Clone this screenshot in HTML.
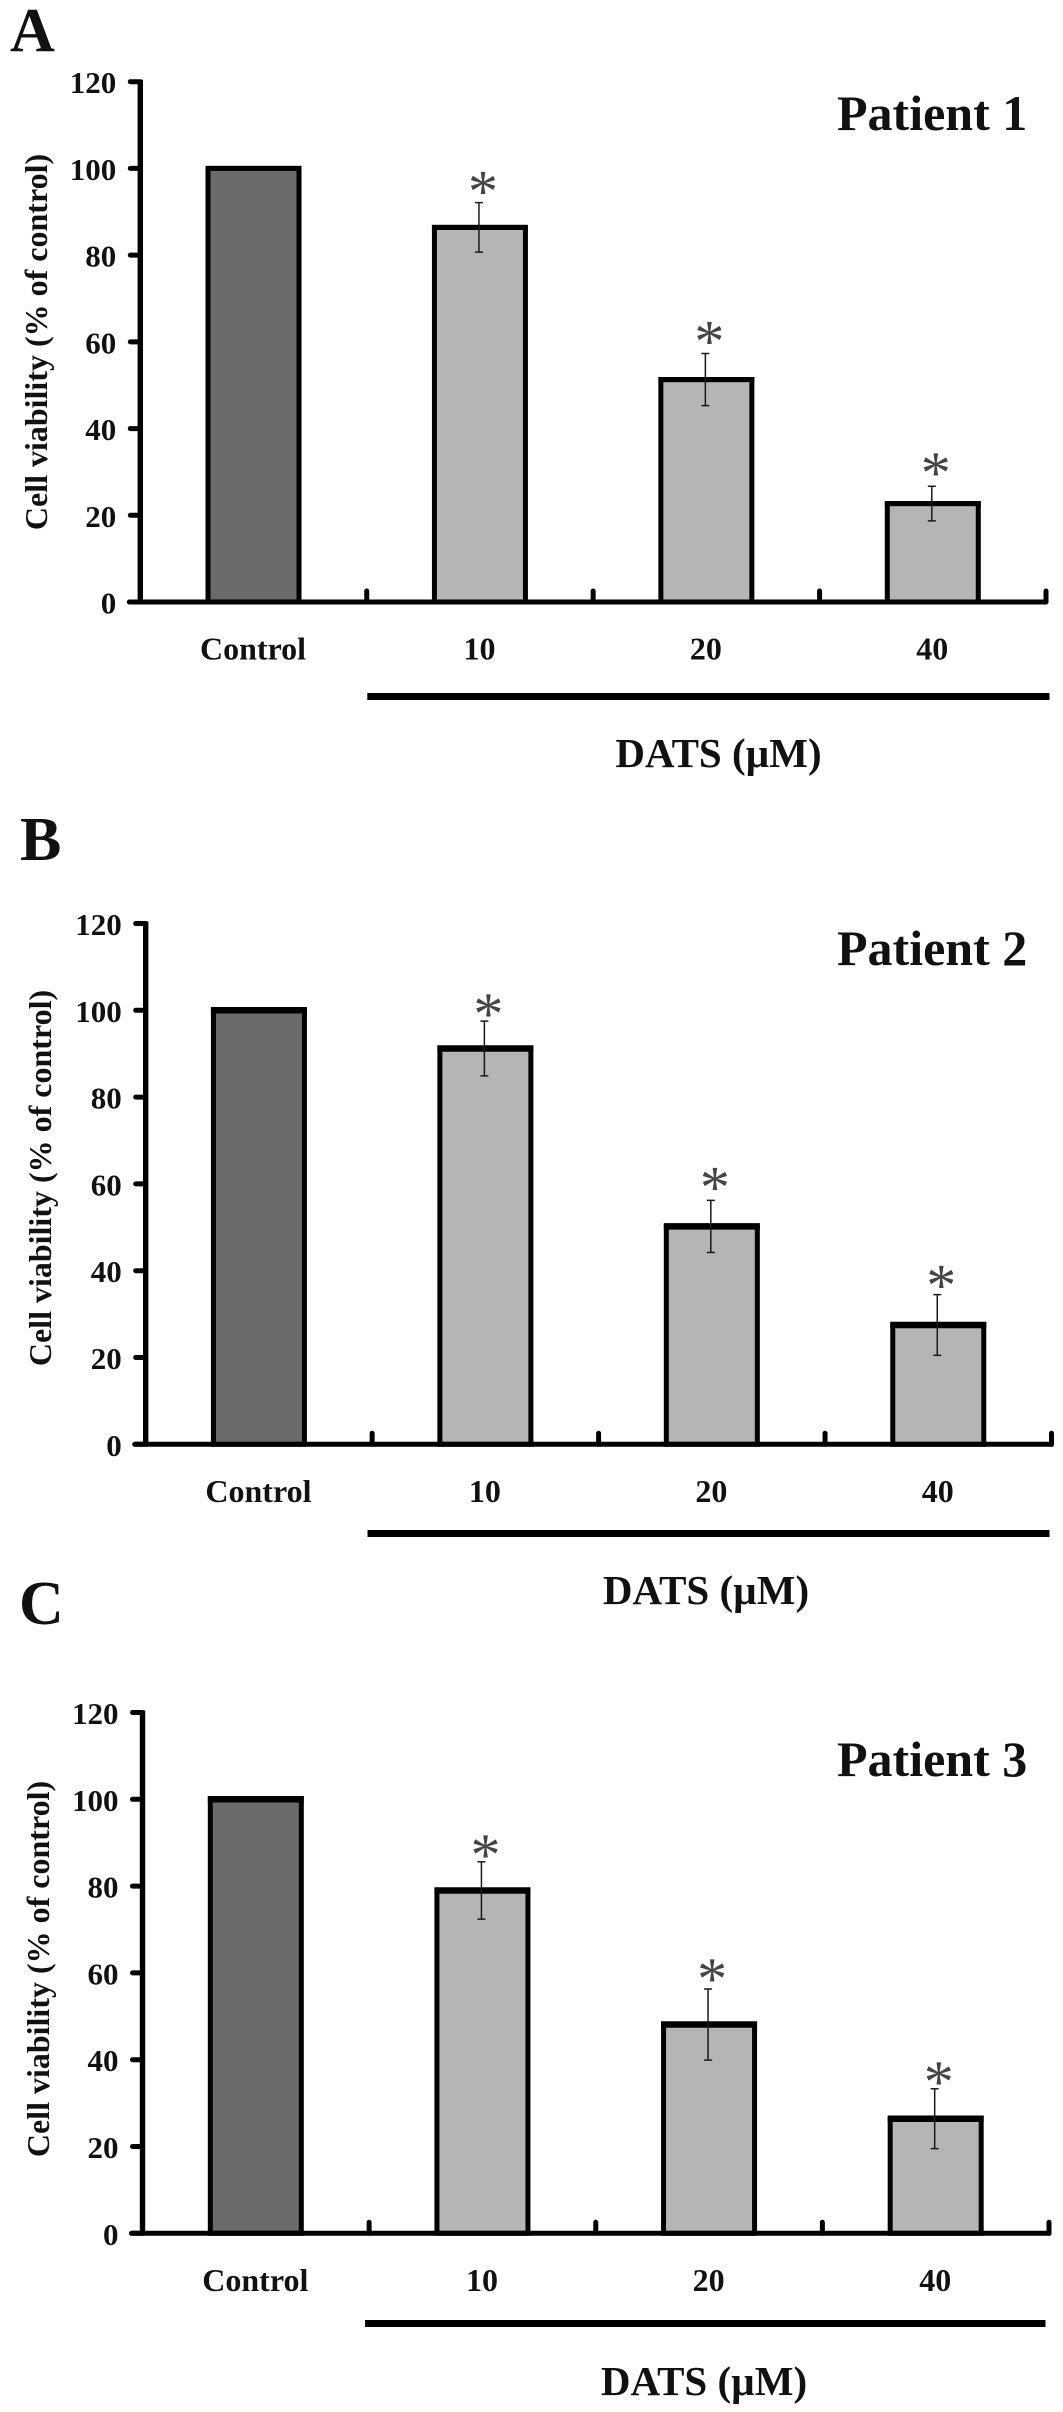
<!DOCTYPE html>
<html lang="en">
<head>
<meta charset="utf-8">
<title>Cell viability after DATS treatment</title>
<style>
html,body{margin:0;padding:0;background:#fff;}
svg{display:block;filter:blur(0.35px);}
text{font-family:"Liberation Serif",serif;fill:#111;}
.b{font-weight:bold;}
</style>
</head>
<body>
<svg id="figure" xmlns="http://www.w3.org/2000/svg" width="1063" height="2412" viewBox="0 0 1063 2412"></svg>
<script>
// ---- chart data ----
const categories = ["Control", "10", "20", "40"];
const tickLabels = [0, 20, 40, 60, 80, 100, 120];
const valuesP1 = [100, 86.4, 51.3, 22.7];
const errorsP1 = [0, 5.7, 6, 4];
const valuesP2 = [100, 91.2, 50.2, 27.5];
const errorsP2 = [0, 6.3, 6, 7];
const valuesP3 = [100, 79, 48.1, 26.4];
const errorsP3 = [0, 6.6, 8.2, 6.9];
const significant = [false, true, true, true];

const NS = "http://www.w3.org/2000/svg";
const svg = document.getElementById("figure");

function el(tag, attrs, parent, txt) {
  const e = document.createElementNS(NS, tag);
  for (const k in attrs) e.setAttribute(k, attrs[k]);
  if (txt !== undefined) e.textContent = txt;
  (parent || svg).appendChild(e);
  return e;
}

function drawPanel(cfg) {
  const g = el("g", {}, svg);
  
  

  const yMax = tickLabels[tickLabels.length - 1];
  const yScale = v => cfg.y0 - (v / yMax) * (cfg.y0 - cfg.yTop);
  const catW = (cfg.xEnd - cfg.x0) / categories.length;
  const xScale = i => cfg.x0 + catW * (i + 0.5);

  const letter = el("text", {x: cfg.letterX, y: cfg.letterY, "font-size": 62, class: "b"}, g, cfg.letter);
  
  

  const title = el("text", {x: cfg.titleX, y: cfg.titleY, "font-size": 50, class: "b"}, g, cfg.title);
  
  

  // bars
  cfg.values.forEach((v, i) => {
    const top = yScale(v);
    const bar = el("rect", {
      x: xScale(i) - 45.5, y: top, width: 91, height: cfg.y0 - top,
      fill: i === 0 ? "#6b6b6b" : "#b5b5b5", stroke: "#000", "stroke-width": 5
    }, g);
    
    
    const cap = el("line", {x1: xScale(i) - 48, x2: xScale(i) + 48, y1: top, y2: top, stroke: "#000", "stroke-width": cfg.topStroke}, g);
    
    
  });

  // y axis, ticks and labels
  const yAxis = el("line", {x1: cfg.x0, x2: cfg.x0, y1: yScale(yMax) - 2, y2: cfg.y0, stroke: "#000", "stroke-width": 5.4}, g);
  
  
  tickLabels.forEach(t => {
    const tick = el("line", {x1: cfg.x0 - 10, x2: cfg.x0, y1: yScale(t), y2: yScale(t), stroke: "#000", "stroke-width": 5, "stroke-linecap": "round"}, g);
    
    
    const lbl = el("text", {x: cfg.x0 - 24, y: yScale(t) + 11.5, "font-size": 31, class: "b", "text-anchor": "end"}, g, String(t));
    
    
  });

  // x axis, ticks and labels
  const xAxis = el("line", {x1: cfg.x0 - 11, x2: cfg.xEnd, y1: cfg.y0, y2: cfg.y0, stroke: "#000", "stroke-width": 5, "stroke-linecap": "round"}, g);
  
  
  categories.forEach((c, i) => {
    const edge = cfg.x0 + catW * (i + 1);
    const tick = el("line", {x1: edge, x2: edge, y1: cfg.y0 - 11, y2: cfg.y0, stroke: "#000", "stroke-width": 5, "stroke-linecap": "round"}, g);
    
    
    const lbl = el("text", {x: xScale(i) - 0.5, y: cfg.y0 + 57.5, "font-size": 32, class: "b", "text-anchor": "middle"}, g, c);
    
    
  });

  // error bars and significance stars
  cfg.values.forEach((v, i) => {
    const e = cfg.errors[i];
    if (e > 0) {
      const cx = xScale(i) - 1;
      const yHi = yScale(v + e), yLo = yScale(v - e);
      const err = el("path", {
        d: "M" + (cx - 4) + " " + yHi + "H" + (cx + 4) + "M" + cx + " " + yHi + "V" + yLo + "M" + (cx - 4) + " " + yLo + "H" + (cx + 4),
        stroke: "#1a1a1a", "stroke-width": 1.5, fill: "none"
      }, g);
      
      
    }
    if (significant[i]) {
      const star = el("text", {
        x: xScale(i) + 3, y: yScale(v + e) - cfg.starGap[i] + 29,
        "font-size": 60, "text-anchor": "middle", style: "fill:#444"
      }, g, "*");
      
      
    }
  });

  // y axis title
  const yt = el("text", {
    x: 0, y: 0, "font-size": 32, class: "b", "text-anchor": "middle",
    transform: "translate(" + cfg.yTitleX + " " + cfg.yTitleY + ") rotate(-90)"
  }, g, "Cell viability (% of control)");
  
  

  // treatment bracket and label
  const br = el("rect", {x: cfg.bracketStart, y: cfg.bracketY, width: cfg.bracketEnd - cfg.bracketStart, height: 7, fill: "#000"}, g);
  
  
  const dl = el("text", {x: cfg.datsX, y: cfg.datsY, "font-size": 41, class: "b", "text-anchor": "middle"}, g, "DATS (µM)");
  
  
}

drawPanel({
  letter: "A", letterX: 10, letterY: 51,
  title: "Patient 1", titleX: 837, titleY: 130,
  values: valuesP1, errors: errorsP1, starGap: [0, 20, 21, 22], topStroke: 5,
  x0: 140.3, xEnd: 1046, yTop: 81.7, y0: 602,
  yTitleX: 47, yTitleY: 342,
  bracketY: 693, bracketStart: 367.3, bracketEnd: 1049.5,
  datsX: 718.5, datsY: 767
});
drawPanel({
  letter: "B", letterX: 20, letterY: 860,
  title: "Patient 2", titleX: 837, titleY: 965,
  values: valuesP2, errors: errorsP2, starGap: [0, 16, 22, 18], topStroke: 6.5,
  x0: 145.7, xEnd: 1051.5, yTop: 923.5, y0: 1444.3,
  yTitleX: 51, yTitleY: 1178,
  bracketY: 1530, bracketStart: 367.5, bracketEnd: 1049.5,
  datsX: 706, datsY: 1604
});
drawPanel({
  letter: "C", letterX: 19, letterY: 1624,
  title: "Patient 3", titleX: 837, titleY: 1776,
  values: valuesP3, errors: errorsP3, starGap: [0, 16, 19, 16], topStroke: 6.5,
  x0: 142.5, xEnd: 1049, yTop: 1712.5, y0: 2233.3,
  yTitleX: 49, yTitleY: 1969,
  bracketY: 2320, bracketStart: 365, bracketEnd: 1045.5,
  datsX: 704, datsY: 2395
});
</script>
</body>
</html>
